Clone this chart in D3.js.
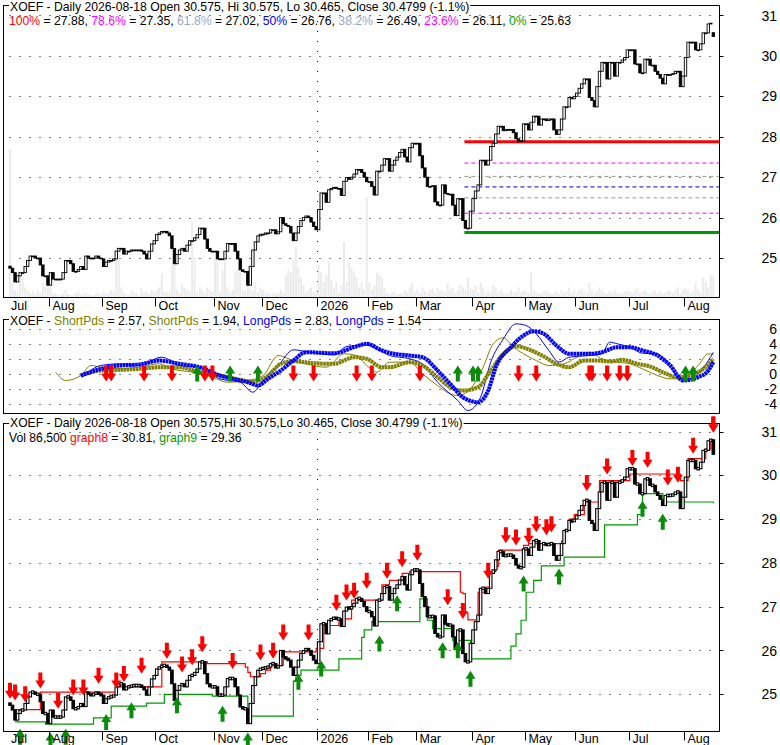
<!DOCTYPE html>
<html><head><meta charset="utf-8">
<script src="https://cdn.jsdelivr.net/npm/d3@7"></script>
<style>body{margin:0;background:#fff} text{font-family:"Liberation Sans",Arial,sans-serif}</style>
</head><body><svg id="c" width="780" height="745"></svg>
<script>
// ---------- DATA ----------
const monthLabels = ["Jul","Aug","Sep","Oct","Nov","Dec","2026","Feb","Mar","Apr","May","Jun","Jul","Aug"];
const monthStarts = [0,16,37,58,81,100,122,142,161,183,204,224,245,267];
const closes = [
 24.75,24.64,24.41,24.56,24.64,24.64,24.79,24.94,25.05,25.05,25.00,25.00,24.83,24.56,24.56,24.33,
 24.64,24.48,24.48,24.48,24.48,24.64,24.94,24.94,24.86,24.67,24.67,24.72,24.79,24.72,25.05,25.00,24.98,25.00,25.05,25.00,24.98,
 24.79,24.90,24.94,24.94,24.98,25.17,25.24,25.24,25.10,25.17,25.17,25.20,25.20,25.20,25.20,25.17,25.10,24.98,25.17,25.35,25.43,
 25.58,25.62,25.66,25.66,25.62,25.55,25.24,24.86,25.09,25.20,25.24,25.17,25.32,25.43,25.43,25.50,25.58,25.74,25.74,25.47,25.24,25.17,25.17,
 25.17,24.98,24.98,24.98,25.17,25.36,25.36,25.36,25.17,24.98,24.71,24.67,24.67,24.33,24.79,25.20,25.40,25.55,25.59,
 25.59,25.62,25.62,25.70,25.70,25.60,25.65,26.00,25.85,25.81,25.78,25.62,25.43,25.62,25.78,25.93,26.00,26.04,26.00,25.89,25.78,25.70,
 26.20,26.61,26.61,26.38,26.69,26.72,26.75,26.72,26.72,26.55,26.90,26.99,26.95,27.00,27.08,27.19,27.19,27.12,27.00,26.89,
 26.89,26.77,26.56,27.15,27.15,27.30,27.46,27.46,27.15,27.30,27.42,27.50,27.61,27.69,27.50,27.38,27.73,27.84,27.84,
 27.84,27.53,27.23,27.00,26.77,26.77,26.79,26.39,26.31,26.31,26.81,26.60,26.58,26.58,26.31,26.05,26.47,26.47,25.93,25.74,25.74,26.16,
 26.47,26.66,26.81,27.42,27.42,27.30,27.42,27.76,27.84,28.07,28.26,28.26,28.15,28.18,28.18,28.18,28.10,27.95,27.88,27.90,28.32,
 28.32,28.17,28.36,28.51,28.51,28.29,28.44,28.44,28.40,28.44,28.44,28.17,28.06,28.17,28.44,28.74,28.74,28.97,28.94,29.00,
 29.08,29.20,29.31,29.43,29.43,28.97,28.90,28.74,29.24,29.62,29.84,29.84,29.43,29.84,29.84,29.50,29.84,29.84,29.90,29.96,30.15,
 30.15,30.15,29.80,29.80,29.58,29.58,29.92,29.92,29.77,29.77,29.62,29.54,29.45,29.31,29.54,29.54,29.54,29.56,29.62,29.62,29.24,29.50,
 29.96,30.34,30.34,30.34,30.15,30.15,30.30,30.57,30.57,30.79,30.81,30.48
];
const opens = [
 24.80,24.75,24.64,24.41,24.56,24.64,24.64,24.79,24.94,25.05,25.05,25.00,25.00,24.83,24.56,24.56,
 24.33,24.64,24.48,24.48,24.48,24.48,24.64,24.94,24.94,24.86,24.67,24.67,24.72,24.79,24.72,25.05,25.00,24.98,25.00,25.05,25.00,
 24.98,24.79,24.90,24.94,24.94,24.98,25.17,25.24,25.24,25.10,25.17,25.17,25.20,25.20,25.20,25.20,25.17,25.10,24.98,25.17,25.35,
 25.43,25.58,25.62,25.66,25.66,25.62,25.55,25.24,24.86,25.09,25.20,25.24,25.17,25.32,25.43,25.43,25.50,25.58,25.74,25.74,25.47,25.24,25.17,
 25.17,25.17,24.98,24.98,24.98,25.17,25.36,25.36,25.36,25.17,24.98,24.71,24.67,24.67,24.33,24.79,25.20,25.40,25.55,
 25.59,25.59,25.62,25.62,25.70,25.70,25.60,25.65,26.00,25.85,25.81,25.78,25.62,25.43,25.62,25.78,25.93,26.00,26.04,26.00,25.89,25.78,
 25.70,26.20,26.61,26.61,26.38,26.69,26.72,26.75,26.72,26.72,26.55,26.90,26.99,26.95,27.00,27.08,27.19,27.19,27.12,27.00,
 26.89,26.89,26.77,26.56,27.15,27.15,27.30,27.46,27.46,27.15,27.30,27.42,27.50,27.61,27.69,27.50,27.38,27.73,27.84,
 27.84,27.84,27.53,27.23,27.00,26.77,26.77,26.79,26.39,26.31,26.31,26.81,26.60,26.58,26.58,26.31,26.05,26.47,26.47,25.93,25.74,25.74,
 26.16,26.47,26.66,26.81,27.42,27.42,27.30,27.42,27.76,27.84,28.07,28.26,28.26,28.15,28.18,28.18,28.18,28.10,27.95,27.88,27.90,
 28.32,28.32,28.17,28.36,28.51,28.51,28.29,28.44,28.44,28.40,28.44,28.44,28.17,28.06,28.17,28.44,28.74,28.74,28.97,28.94,
 29.00,29.08,29.20,29.31,29.43,29.43,28.97,28.90,28.74,29.24,29.62,29.84,29.84,29.43,29.84,29.84,29.50,29.84,29.84,29.90,29.96,
 30.15,30.15,30.15,29.80,29.80,29.58,29.58,29.92,29.92,29.77,29.77,29.62,29.54,29.45,29.31,29.54,29.54,29.54,29.56,29.62,29.62,29.24,
 29.50,29.96,30.34,30.34,30.34,30.15,30.15,30.30,30.57,30.57,30.79,30.575
];
const volumes = [ // thousands
 590,60,30,25,90,80,40,30,20,25,15,30,20,60,40,45,
 40,15,20,10,12,20,30,15,10,12,20,25,10,15,20,12,10,8,15,20,12,
 25,15,20,30,25,200,150,40,20,15,10,30,20,15,10,40,20,25,15,30,20,
 30,40,95,25,20,20,130,140,30,20,50,40,30,25,300,160,20,40,30,20,40,30,25,
 150,160,20,110,150,40,20,30,100,110,130,30,25,70,40,30,60,20,40,
 30,25,20,15,20,15,20,30,20,90,110,100,150,200,120,80,50,20,30,40,20,20,
 130,100,60,90,140,70,40,60,20,50,220,60,140,120,100,80,40,60,30,400,
 60,30,50,100,90,80,40,20,15,20,25,10,20,15,30,20,40,60,20,
 30,20,40,25,20,30,35,20,40,25,30,20,60,30,40,20,30,50,40,30,80,40,
 30,50,20,60,40,20,30,20,50,40,20,30,20,15,20,30,20,25,40,20,30,
 25,20,100,30,20,15,20,25,30,20,15,20,25,15,30,20,25,40,20,30,
 20,30,40,25,20,60,30,20,25,40,30,20,15,25,20,30,20,15,20,25,30,
 25,20,30,40,20,25,30,20,15,25,30,20,25,15,20,30,25,20,30,40,20,30,
 40,30,20,25,60,30,20,80,60,40,90,86.5
];
const fibLevels = [27.88,27.35,27.02,26.76,26.49,26.11,25.63];
const fibLabels = ["100%","78.6%","61.8%","50%","38.2%","23.6%","0%"];
const fibStart = 180;
// oscillator panel [barIndex, value]
const shortThin = [[18,0.18],[22,-0.93],[28,-0.27],[32,1.07],[36,0.84],[43,0.62],[51,0.84],[59,1.29],[64,0.62],[72,0.18],[80,-0.49],[86,-1.16],[94,-0.93],[100,-0.27],[106,2.4],[112,1.73],[117,1.29],[125,0.84],[132,2.62],[137,2.4],[141,1.07],[145,0.18],[150,1.51],[158,1.51],[163,-0.04],[169,-1.6],[174,-2.71],[177,-2.93],[182,-2.04],[187,0.84],[191,3.96],[195,4.76],[199,3.51],[203,2.62],[208,1.73],[213,1.07],[219,1.29],[224,2.18],[229,2.84],[234,1.96],[240,1.51],[245,1.29],[250,0.62],[256,-0.27],[261,-0.71],[266,-0.6],[272,1.07],[276,2.62],[278,2.57]];
const shortThick = [[28,-0.27],[36,0.4],[43,0.49],[51,0.62],[59,0.84],[67,0.84],[75,0.18],[83,-0.27],[88,-0.62],[96,-1.07],[102,-0.27],[107,1.29],[112,1.64],[120,1.38],[128,1.29],[136,2.18],[141,1.96],[147,0.84],[150,0.84],[158,1.51],[163,1.07],[169,-0.49],[174,-1.82],[179,-2.27],[185,-1.82],[190,0.4],[195,2.62],[200,3.64],[206,3.07],[211,2.27],[216,1.29],[221,0.84],[227,1.73],[232,1.73],[237,1.6],[242,1.82],[248,1.29],[253,0.93],[258,0.18],[264,-0.49],[269,-0.27],[274,0.62],[278,1.94]];
const longThin = [[29,-0.27],[36,1.07],[43,1.29],[51,1.07],[60,2.18],[67,1.07],[75,0.84],[83,-0.71],[91,-1.16],[96,-2.49],[100,-0.93],[106,1.07],[112,3.16],[117,2.93],[128,2.49],[133,3.6],[141,3.82],[146,3.16],[150,2.4],[158,1.96],[163,1.29],[169,-1.16],[177,-3.6],[181,-4.93],[186,-3.16],[190,1.51],[195,4.62],[200,6.62],[204,6.4],[208,5.29],[213,3.07],[217,1.51],[221,2.18],[229,2.4],[234,2.62],[237,4.18],[240,3.96],[245,3.51],[250,2.7],[256,2.62],[261,0.84],[266,-0.93],[272,-0.04],[276,1.73],[278,2.83]];
const longThick = [[28,-0.27],[36,0.62],[43,1.07],[51,1.2],[59,1.73],[67,1.29],[75,0.84],[83,-0.27],[88,-0.71],[94,-1.16],[98,-1.6],[102,-0.71],[107,0.4],[112,1.73],[117,2.84],[128,2.7],[136,3.51],[141,3.96],[147,3.07],[150,2.76],[158,2.4],[163,2.18],[169,0.4],[174,-1.38],[179,-3.16],[185,-3.82],[189,-2.27],[192,0.84],[198,3.51],[203,5.07],[207,5.64],[211,5.29],[216,3.73],[221,2.62],[229,2.62],[234,2.84],[240,3.51],[245,3.51],[250,3.07],[256,2.4],[261,1.07],[266,-0.93],[272,-0.49],[276,0.4],[278,1.54]];
const oscSellIdx = [38,40,53,64,77,80,112,120,137,143,162,201,208,229,230,236,241,244];
const oscBuyIdx = [74,87,98,177,183,185,267,270];
// lower panel
const graph8 = [[1,24.65],[12,25.05],[42,25.17],[60,25.74],[78,25.70],[93,25.62],[94,25.50],[95,25.40],[99,25.47],[101,25.55],[103,25.66],[108,25.97],[121,26.05],[124,26.57],[130,26.72],[135,27.15],[147,27.50],[150,27.60],[155,27.76],[158,27.80],[178,27.33],[179,27.30],[180,26.86],[181,26.70],[185,27.33],[188,27.45],[190,27.80],[192,27.92],[193,28.29],[203,28.40],[205,28.44],[218,28.50],[219,28.75],[221,29.00],[223,29.10],[227,29.39],[233,29.88],[245,30.03],[265,29.88],[268,30.38],[275,30.60],[277,30.81],[278,30.81]];
const graph9 = [[2,24.37],[14,24.32],[33,24.46],[40,24.73],[54,24.80],[61,25.00],[80,24.96],[94,24.50],[112,25.30],[113,25.43],[115,25.55],[130,25.81],[139,26.30],[140,26.47],[143,26.66],[162,27.18],[165,26.69],[167,26.50],[175,26.23],[182,25.81],[198,26.10],[200,26.38],[202,26.69],[204,27.33],[207,27.60],[210,27.93],[219,28.13],[235,28.87],[248,29.10],[250,29.58],[258,29.39],[278,29.36]];
const sellSignals = [[0,24.9],[2,24.86],[6,24.82],[12,25.13],[19,24.67],[25,24.97],[29,24.97],[35,25.24],[42,25.13],[45,25.28],[52,25.47],[62,25.81],[68,25.5],[72,25.66],[76,25.96],[88,25.58],[99,25.77],[104,25.81],[108,26.23],[118,26.23],[129,26.91],[133,27.14],[136,27.18],[141,27.41],[149,27.64],[155,27.9],[161,28.05],[173,27.03],[179,26.72],[189,27.64],[196,28.45],[200,28.4],[205,28.44],[208,28.7],[212,28.63],[214,28.7],[228,29.64],[236,30.02],[246,30.21],[252,30.17],[260,29.77],[264,29.83],[270,30.49],[278,30.98]];
const buySignals = [[4,24.21],[16,24.13],[22,24.21],[38,24.55],[48,24.82],[66,24.93],[84,24.74],[94,24.13],[114,25.47],[123,25.77],[146,26.34],[153,27.26],[171,26.19],[177,26.19],[182,25.54],[203,27.71],[217,27.87],[250,29.42],[258,29.12]];
const priceTicks = [25,26,27,28,29,30,31];
const oscTicks = [-4,-2,0,2,4,6];

// ---------- DRAW ----------
const svg = d3.select('#c');
const L = 3.5, R = 719.5;
const x = d3.scaleLinear().domain([0,278]).range([10,713.34]);
const step = x(1) - x(0);
const y1 = d3.scaleLinear().domain([24.025,31.247]).range([297.5,5.5]);
const y2 = d3.scaleLinear().domain([-5.33,7.2]).range([413.5,319.5]);
const y3 = d3.scaleLinear().domain([24.15,31.183]).range([731.5,423.5]);
const vScale = d3.scaleLinear().domain([0,590]).range([0,148]);
const RED = "#ff0000", GREEN = "#0a8c0a", OLIVE = "#808000", BLUE = "#0000ff";
const yearX = x(monthStarts[6]) - step/2;

function grid(g, ys, top, bottom, vline) {
  ys.forEach(v => g.append('line').attr('x1', L+6).attr('x2', R).attr('y1', Math.round(v)+0.5).attr('y2', Math.round(v)+0.5)
    .attr('stroke','#000').attr('stroke-dasharray','1,9'));
  if (vline) g.append('line').attr('x1', Math.round(yearX)+0.5).attr('x2', Math.round(yearX)+0.5).attr('y1', top+6).attr('y2', bottom)
    .attr('stroke','#000').attr('stroke-dasharray','1,9');
}
function frame(top, bottom) {
  svg.append('rect').attr('x', L).attr('y', top).attr('width', R-L).attr('height', bottom-top)
    .attr('fill','none').attr('stroke','#000');
}
function rightLabels(vals, sc, ticks) {
  vals.forEach(v => {
    if (ticks) svg.append('line').attr('x1',R).attr('x2',R+4).attr('y1',Math.round(sc(v))+0.5).attr('y2',Math.round(sc(v))+0.5).attr('stroke','#000');
    svg.append('text').attr('x',777).attr('y',sc(v)).attr('dy','0.36em').attr('text-anchor','end')
      .attr('font-size',14).text(v);
  });
}
function monthAxis(yTop, yText) {
  monthStarts.forEach((s,k) => {
    const xx = Math.round(x(s) - step/2) + 0.5;
    if (k > 0) svg.append('line').attr('x1',xx).attr('x2',xx).attr('y1',yTop).attr('y2',yTop+9).attr('stroke','#000');
    svg.append('text').attr('x', k===0 ? 11 : xx+3).attr('y', yText).attr('font-size',12.5).text(monthLabels[k]);
  });
}
function header(x0, yb, parts) {
  const t = svg.append('text').attr('x', x0).attr('y', yb).attr('font-size', 12.2);
  parts.forEach(p => t.append('tspan').attr('fill', p[1]).text(p[0]));
  return t;
}
function headerBg(t) {
  const b = t.node().getBBox();
  svg.insert('rect', () => t.node()).attr('x', b.x-1).attr('y', b.y).attr('width', b.width+2).attr('height', b.height).attr('fill','#fff');
}
function arrowDown(g, cx, tip, col) {
  const p = `M${cx-2},${tip-16} L${cx+2},${tip-16} L${cx+2},${tip-8} L${cx+5},${tip-8} L${cx},${tip} L${cx-5},${tip-8} L${cx-2},${tip-8} Z`;
  g.append('path').attr('d', p).attr('fill', col);
}
function arrowUp(g, cx, tip, col) {
  const p = `M${cx-2},${tip+16} L${cx+2},${tip+16} L${cx+2},${tip+8} L${cx+5},${tip+8} L${cx},${tip} L${cx-5},${tip+8} L${cx-2},${tip+8} Z`;
  g.append('path').attr('d', p).attr('fill', col);
}

// ===== Panel 1: price candles =====
const g1 = svg.append('g');
grid(g1, priceTicks.map(v => y1(v)), 5, 297, true);
g1.selectAll('rect.vol').data(volumes).enter().append('rect')
  .attr('x', (d,i) => x(i)-1).attr('width', 2)
  .attr('y', d => 297.5 - vScale(d)).attr('height', d => vScale(d)).attr('fill', '#ebebeb');
const fibStyles = [[RED,3,null],["#ff00ff",1,"4,3"],["#999999",1,"4,3"],["#0000cc",1,"4,3"],["#999999",1,"4,3"],["#ff00ff",1,"4,3"],["#009900",3,null]];
fibLevels.forEach((v,k) => {
  const ln = g1.append('line').attr('x1', x(fibStart)-1).attr('x2', R).attr('y1', y1(v)).attr('y2', y1(v))
    .attr('stroke', fibStyles[k][0]).attr('stroke-width', fibStyles[k][1]);
  if (fibStyles[k][2]) ln.attr('stroke-dasharray', fibStyles[k][2]);
});
closes.forEach((c,i) => {
  const o = opens[i];
  const top = y1(Math.max(o,c)), bot = y1(Math.min(o,c));
  const up = c >= o;
  g1.append('rect').attr('x', x(i)-1.2).attr('width', 2.4)
    .attr('y', top).attr('height', Math.max(bot-top, 0.8))
    .attr('fill', up ? '#fff' : '#000').attr('stroke','#000').attr('stroke-width',0.9);
});
frame(5.5, 297.5);
rightLabels(priceTicks, y1, true);
monthAxis(297.5, 310);
const h1 = header(10, 11, [["XOEF - Daily 2026-08-18 Open 30.575, Hi 30.575, Lo 30.465, Close 30.4799 (-1.1%)","#000"]]);
headerBg(h1);
const fibCols = [RED,"#ff00ff","#9aa6c8","#0000ff","#9aa6c8","#ff00ff","#00a000"];
const parts = [];
fibLabels.forEach((lab,k) => { parts.push([" " + lab, fibCols[k]]); parts.push([" = " + fibLevels[k].toFixed(2) + (k<6?",":""), "#000"]); });
header(9, 25, parts);

// ===== Panel 2: oscillator =====
const g2 = svg.append('g');
grid(g2, oscTicks.map(v => y2(v)), 319, 413, false);
const ln2 = d3.line().x(d => x(d[0])).y(d => y2(d[1])).curve(d3.curveMonotoneX);
g2.append('path').attr('d', ln2(shortThin)).attr('fill','none').attr('stroke',OLIVE).attr('stroke-width',1);
g2.append('path').attr('d', ln2(longThin)).attr('fill','none').attr('stroke',BLUE).attr('stroke-width',1);
g2.append('path').attr('d', ln2(shortThick)).attr('fill','none').attr('stroke',OLIVE).attr('stroke-width',4).attr('stroke-dasharray','2.6,0.5');
g2.append('path').attr('d', ln2(longThick)).attr('fill','none').attr('stroke',BLUE).attr('stroke-width',4).attr('stroke-dasharray','2.6,0.5');
oscSellIdx.forEach(i => arrowDown(g2, x(i), y2(0)+8, RED));
oscBuyIdx.forEach(i => arrowUp(g2, x(i), y2(0)-8, GREEN));
frame(319.5, 413.5);
rightLabels(oscTicks, y2, false);
const h2 = header(10, 325, [["XOEF - ","#000"],["ShortPds","#808000"],[" = 2.57, ","#000"],["ShortPds","#808000"],[" = 1.94, ","#000"],["LongPds",BLUE],[" = 2.83, ","#000"],["LongPds",BLUE],[" = 1.54","#000"]]);
headerBg(h2);

// ===== Panel 3: step price with bands =====
const g3 = svg.append('g');
grid(g3, priceTicks.map(v => y3(v)), 423, 731, true);
const st = d3.line().x(d => x(d[0])).y(d => y3(d[1])).curve(d3.curveStepAfter);
g3.append('path').attr('d', st(graph8)).attr('fill','none').attr('stroke',RED).attr('stroke-width',1.2);
g3.append('path').attr('d', st(graph9)).attr('fill','none').attr('stroke',"#009a00").attr('stroke-width',1.2);
closes.forEach((c,i) => {
  const p = i === 0 ? opens[0] : closes[i-1];
  const top = y3(Math.max(p,c)), bot = y3(Math.min(p,c));
  const up = c >= p;
  let h = bot - top, yy = top;
  if (h < 2.4) { yy = (top+bot)/2 - 1.2; h = 2.4; }
  g3.append('rect').attr('x', x(i)-step/2).attr('width', step)
    .attr('y', yy).attr('height', h)
    .attr('fill', up ? '#fff' : '#000').attr('stroke','#000').attr('stroke-width',1.1);
});
sellSignals.forEach(d => arrowDown(g3, x(d[0]), y3(d[1]), RED));
buySignals.forEach(d => arrowUp(g3, x(d[0]), y3(d[1]), GREEN));
frame(423.5, 731.5);
rightLabels(priceTicks, y3, true);
monthAxis(731.5, 743);
const h3 = header(10, 427, [["XOEF - Daily 2026-08-18 Open 30.575,Hi 30.575,Lo 30.465, Close 30.4799 (-1.1%)","#000"]]);
headerBg(h3);
header(9, 442, [[" Vol 86,500 ","#000"],["graph8",RED],[" = 30.81, ","#000"],["graph9","#009900"],[" = 29.36","#000"]]);
// redraw last sell arrow above header background
arrowDown(svg, x(278), y3(30.98), RED);
</script></body></html>
